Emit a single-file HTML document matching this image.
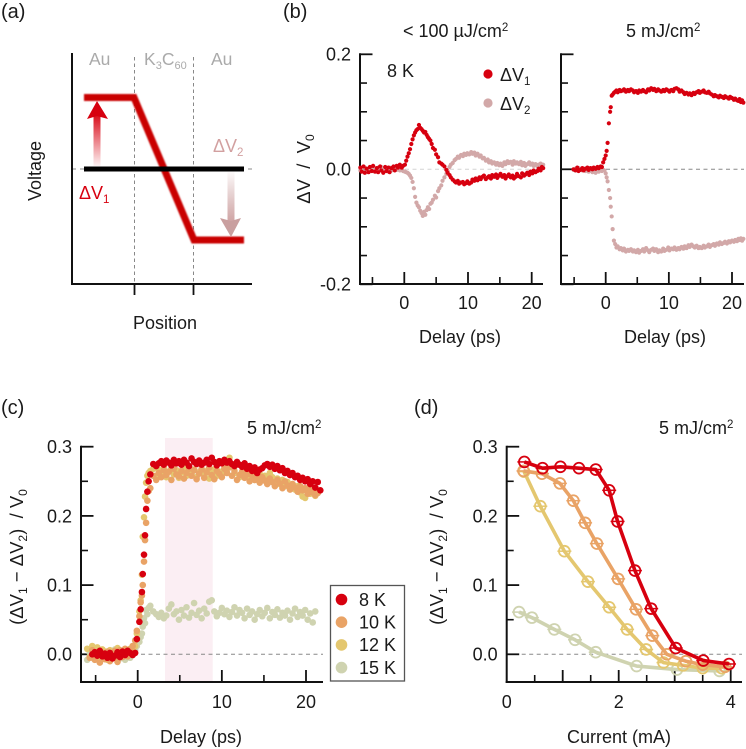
<!DOCTYPE html>
<html>
<head>
<meta charset="utf-8">
<title>Voltage transients</title>
<style>
html,body{margin:0;padding:0;background:#fff;width:746px;height:749px;overflow:hidden}
svg{display:block;font-family:"Liberation Sans",sans-serif;fill:#1a1a1a}
</style>
</head>
<body>
<svg id="fig" xmlns="http://www.w3.org/2000/svg" width="746" height="749" viewBox="0 0 746 749">
<defs>
<filter id="soft" x="-10%" y="-20%" width="120%" height="140%"><feGaussianBlur stdDeviation="0.9"/></filter>
<linearGradient id="redFade" gradientUnits="userSpaceOnUse" x1="0" y1="166" x2="0" y2="112"><stop offset="0" stop-color="#d7000f" stop-opacity="0.05"/><stop offset="1" stop-color="#d7000f"/></linearGradient>
<linearGradient id="pinkFade" gradientUnits="userSpaceOnUse" x1="0" y1="172" x2="0" y2="222"><stop offset="0" stop-color="#c99b9b" stop-opacity="0.05"/><stop offset="1" stop-color="#cfa4a4"/></linearGradient>
</defs>

<g>
<text x="1" y="18" font-size="20">(a)</text>
<text x="89" y="65" font-size="17.5" style="fill:#aaa">Au</text>
<text x="144" y="65" font-size="17.5" style="fill:#aaa">K<tspan font-size="11" dy="4">3</tspan><tspan dy="-4">C</tspan><tspan font-size="11" dy="4">60</tspan></text>
<text x="211" y="65" font-size="17.5" style="fill:#aaa">Au</text>
<line x1="134.5" y1="57" x2="134.5" y2="284" stroke="#888" stroke-width="1" stroke-dasharray="3.5 3"/>
<line x1="193.5" y1="57" x2="193.5" y2="284" stroke="#888" stroke-width="1" stroke-dasharray="3.5 3"/>
<line x1="72" y1="169" x2="255" y2="169" stroke="#888" stroke-width="1" stroke-dasharray="4 4"/>
<polyline points="84,97.5 134,97.5 194,240 244,240" fill="none" stroke="#c90000" stroke-width="7" filter="url(#soft)"/>
<line x1="84" y1="169" x2="244" y2="169" stroke="#000" stroke-width="5"/>
<rect x="93.5" y="115" width="7" height="51" fill="url(#redFade)"/>
<polygon points="97,101 108,119 97,116 87,119" fill="#d7000f"/>
<rect x="227.5" y="172" width="7" height="50" fill="url(#pinkFade)"/>
<polygon points="231,237 220,218 231,221 241,218" fill="#c99f9f"/>
<text x="79" y="199" font-size="18" style="fill:#d7000f">ΔV<tspan font-size="11.5" dy="4">1</tspan></text>
<text x="213" y="152" font-size="18" style="fill:#d2a0a0">ΔV<tspan font-size="11.5" dy="4">2</tspan></text>
<line x1="72" y1="53" x2="72" y2="285" stroke="#111" stroke-width="2"/>
<line x1="71" y1="284" x2="252" y2="284" stroke="#111" stroke-width="2"/>
<line x1="134.5" y1="284" x2="134.5" y2="295" stroke="#111" stroke-width="1.8"/>
<line x1="193.5" y1="284" x2="193.5" y2="295" stroke="#111" stroke-width="1.8"/>
<text transform="translate(41,171) rotate(-90)" text-anchor="middle" font-size="18">Voltage</text>
<text x="165" y="329" text-anchor="middle" font-size="18">Position</text>
</g>

<g>
<text x="283" y="18" font-size="20">(b)</text>
<text x="1" y="414" font-size="20">(c)</text>
<text x="414" y="414" font-size="20">(d)</text>
<text x="403" y="37" font-size="18">&lt; 100 µJ/cm<tspan font-size="11.5" dy="-6">2</tspan></text>
<text x="626" y="37" font-size="18">5 mJ/cm<tspan font-size="11.5" dy="-6">2</tspan></text>
<text x="247" y="434" font-size="18">5 mJ/cm<tspan font-size="11.5" dy="-6">2</tspan></text>
<text x="659" y="434" font-size="18">5 mJ/cm<tspan font-size="11.5" dy="-6">2</tspan></text>
<text x="387" y="77" font-size="18">8 K</text>
<text transform="translate(310,169) rotate(-90)" text-anchor="middle" font-size="18.5">ΔV&#160; /&#160; V<tspan font-size="12" dy="4">0</tspan></text>
<text transform="translate(23,557) rotate(-90)" text-anchor="middle" font-size="18.5">(ΔV<tspan font-size="12" dy="4">1</tspan><tspan dy="-4"> − ΔV</tspan><tspan font-size="12" dy="4">2</tspan><tspan dy="-4">)&#160; /&#160;V</tspan><tspan font-size="12" dy="4">0</tspan></text>
<text transform="translate(443,557) rotate(-90)" text-anchor="middle" font-size="18.5">(ΔV<tspan font-size="12" dy="4">1</tspan><tspan dy="-4"> − ΔV</tspan><tspan font-size="12" dy="4">2</tspan><tspan dy="-4">)&#160; /&#160;V</tspan><tspan font-size="12" dy="4">0</tspan></text>
<text x="460" y="343" text-anchor="middle" font-size="18">Delay (ps)</text>
<text x="665" y="343" text-anchor="middle" font-size="18">Delay (ps)</text>
<text x="201" y="743" text-anchor="middle" font-size="18">Delay (ps)</text>
<text x="619" y="743" text-anchor="middle" font-size="18">Current (mA)</text>
</g>
<rect x="165" y="438" width="47.7" height="244" fill="#fbeef3"/>
</svg>

<script>
// ---------- panel (b) low fluence ----------
const delayLow = [
-6.9,-6.7,-6.4,-6.2,-5.9,-5.6,-5.4,-5.1,-4.9,-4.6,
-4.3,-4.1,-3.8,-3.6,-3.3,-3.0,-2.8,-2.5,-2.3,-2.0,
-1.7,-1.5,-1.2,-1.0,-0.7,-0.4,-0.2,0.1,0.3,0.5,
0.7,0.9,1.1,1.3,1.5,1.7,1.9,2.1,2.3,2.5,
2.7,2.9,3.1,3.3,3.5,3.7,3.9,4.1,4.3,4.5,
4.8,5.0,5.3,5.5,5.8,6.0,6.3,6.6,6.8,7.1,
7.3,7.6,7.9,8.1,8.4,8.6,8.9,9.2,9.4,9.7,
9.9,10.2,10.5,10.7,11.0,11.2,11.5,11.8,12.0,12.3,
12.5,12.8,13.1,13.3,13.6,13.8,14.1,14.4,14.6,14.9,
15.1,15.4,15.7,15.9,16.2,16.4,16.7,17.0,17.2,17.5,
17.7,18.0,18.3,18.5,18.8,19.0,19.3,19.6,19.8,20.1,
20.3,20.6,20.9,21.1,21.4,21.6,21.8];
const dv1Low = [
.003,-.004,.005,-.006,.001,-.005,.004,-.003,.006,-.004,
.002,-.005,.005,-.002,-.006,.004,-.003,.003,-.005,.002,
.005,-.002,.006,.003,.008,.003,.006,.008,.015,.022,
.028,.035,.044,.052,.059,.064,.068,.070,.077,.072,
.070,.067,.064,.065,.060,.056,.053,.050,.044,.037,
.034,.026,.021,.012,.010,.008,.005,-.001,-.006,-.010,
-.014,-.018,-.021,-.023,-.020,-.025,-.023,-.022,-.026,-.024,
-.021,-.025,-.023,-.018,-.020,-.016,-.019,-.014,-.017,-.013,
-.011,-.017,-.014,-.012,-.016,-.010,-.013,-.009,-.015,-.011,
-.008,-.013,-.010,-.016,-.012,-.009,-.014,-.011,-.016,-.013,
-.008,-.012,-.014,-.007,-.011,-.009,-.006,-.010,-.004,-.007,
-.002,-.005,-.003,.001,-.002,.004,.002];
const dv2Low = [
-.002,.002,-.004,.003,-.005,.001,-.002,.004,-.003,.002,
-.004,.003,-.001,.004,.001,-.003,.002,-.004,.003,-.002,
.001,.003,-.001,.002,-.002,-.001,-.003,-.004,-.005,-.006,
-.008,-.011,-.015,-.022,-.033,-.048,-.058,-.063,-.066,-.072,
-.076,-.081,-.074,-.079,-.071,-.066,-.069,-.060,-.058,-.053,
-.046,-.049,-.038,-.033,-.028,-.020,-.014,-.008,-.003,.004,
.008,.011,.016,.018,.022,.020,.025,.023,.027,.025,
.028,.026,.030,.027,.029,.024,.027,.022,.024,.019,
.020,.015,.017,.012,.014,.010,.012,.008,.011,.007,
.010,.006,.012,.009,.014,.011,.013,.008,.014,.010,
.012,.009,.013,.007,.011,.006,.009,.012,.008,.010,
.006,.009,.005,.008,.010,.006,.008];

// ---------- panel (b) high fluence ----------
const delayHigh = [
-5.1,-4.8,-4.5,-4.3,-4.0,-3.7,-3.5,-3.2,-2.9,-2.7,
-2.4,-2.1,-1.9,-1.6,-1.3,-1.1,-0.8,-0.6,-0.4,-0.2,
0.0,0.15,0.3,0.5,0.7,0.8,0.95,1.1,1.3,1.5,
1.7,1.9,2.2,2.4,2.7,2.9,3.2,3.5,3.7,4.0,
4.3,4.5,4.8,5.1,5.3,5.6,5.9,6.1,6.4,6.7,
6.9,7.2,7.5,7.7,8.0,8.3,8.5,8.8,9.1,9.3,
9.6,9.9,10.1,10.4,10.7,10.9,11.2,11.5,11.7,12.0,
12.3,12.5,12.8,13.1,13.3,13.6,13.9,14.1,14.4,14.7,
14.9,15.2,15.5,15.7,16.0,16.3,16.5,16.8,17.1,17.3,
17.6,17.9,18.1,18.4,18.7,18.9,19.2,19.5,19.7,20.0,
20.3,20.5,20.8,21.0,21.2,21.4,21.6,21.8];
const dv1High = [
.000,-.002,.003,-.003,-.001,.002,-.002,.001,.003,-.001,
.002,.000,.003,.001,.004,.002,.005,.004,.012,.018,
.024,.032,.046,.080,.100,.108,.128,.130,.133,.135,
.137,.134,.138,.136,.137,.139,.135,.138,.136,.139,
.137,.134,.136,.133,.137,.135,.138,.136,.134,.139,
.137,.141,.138,.140,.136,.139,.137,.135,.138,.136,
.139,.137,.135,.138,.136,.140,.141,.139,.135,.137,
.134,.131,.133,.130,.132,.129,.133,.131,.134,.136,
.133,.135,.137,.134,.133,.135,.132,.130,.127,.129,
.127,.125,.128,.126,.124,.127,.125,.123,.126,.124,
.121,.123,.120,.119,.122,.117,.120,.116];
const dv2High = [
-.001,.001,-.002,.002,.000,-.002,.001,-.003,.000,-.004,
-.002,-.005,-.003,-.006,-.002,-.004,-.001,-.003,-.001,-.002,
-.007,-.014,-.021,-.036,-.050,-.065,-.082,-.104,-.124,-.130,
-.136,-.134,-.139,-.137,-.141,-.138,-.143,-.140,-.142,-.139,
-.143,-.141,-.144,-.140,-.145,-.142,-.139,-.143,-.137,-.141,
-.144,-.140,-.138,-.142,-.139,-.144,-.141,-.143,-.138,-.142,
-.140,-.136,-.141,-.138,-.139,-.136,-.140,-.137,-.139,-.135,
-.138,-.134,-.137,-.132,-.135,-.131,-.134,-.136,-.133,-.137,
-.135,-.137,-.133,-.136,-.134,-.131,-.135,-.132,-.130,-.133,
-.129,-.131,-.127,-.130,-.128,-.126,-.129,-.125,-.127,-.124,
-.126,-.123,-.125,-.121,-.123,-.120,-.124,-.121];

// ---------- panel (c) ----------
const delayC = [
-6.0,-5.7,-5.4,-5.1,-4.8,-4.5,-4.2,-3.9,-3.6,-3.3,
-3.0,-2.7,-2.4,-2.1,-1.8,-1.5,-1.2,-0.9,-0.6,-0.3,
-0.1,0.2,0.35,0.5,0.6,0.75,0.87,1.0,1.15,1.3,
1.5,1.85,2.2,2.5,2.8,3.1,3.4,3.7,4.0,4.3,
4.6,4.9,5.2,5.5,5.8,6.1,6.4,6.7,7.0,7.3,
7.6,7.9,8.2,8.5,8.8,9.1,9.4,9.7,10.0,10.3,
10.6,10.9,11.2,11.5,11.8,12.1,12.4,12.7,13.0,13.3,
13.6,13.9,14.2,14.5,14.8,15.1,15.4,15.7,16.0,16.3,
16.6,16.9,17.2,17.5,17.8,18.1,18.4,18.7,19.0,19.3,
19.6,19.9,20.2,20.5,20.8,21.1,21.4,21.7];
const diff15K = [
-.008,.002,-.005,.006,-.002,.004,-.006,.003,-.003,.005,
-.004,.007,.000,-.006,.004,-.008,.003,-.005,.002,.006,
.012,.018,.025,.030,.040,.052,.045,.064,.058,.067,
.070,.062,.058,.054,.060,.052,.056,.066,.072,.058,
.062,.050,.064,.056,.068,.053,.060,.074,.057,.063,
.052,.066,.059,.076,.078,.062,.055,.060,.067,.058,
.063,.054,.061,.068,.056,.064,.060,.052,.066,.057,
.062,.050,.058,.064,.055,.060,.067,.052,.061,.057,
.065,.053,.060,.056,.063,.050,.059,.066,.054,.061,
.056,.064,.050,.059,.046,.062,null,null];
const diff12K = [
.008,-.004,.012,.002,.010,-.006,.007,.004,-.008,.006,
.001,-.005,.009,.003,-.003,.007,.002,.008,.005,.012,
.030,.062,.078,.115,.170,.198,.228,.248,.258,.262,
.265,.268,.258,.266,.261,.270,.256,.264,.268,.260,
.266,.255,.263,.269,.258,.265,.261,.267,.256,.263,
.268,.259,.265,.254,.262,.267,.258,.264,.260,.269,
.263,.284,.272,.262,.274,.256,.264,.258,.262,.253,
.260,.252,.257,.261,.254,.258,.251,.262,.256,.248,
.254,.246,.252,.243,.249,.241,.246,.238,.243,.234,
.228,.226,.238,.232,.236,.229,null,null];
const diff10K = [
null,-.005,.006,-.008,.003,-.012,.002,-.007,.004,-.010,
-.002,.005,-.011,.006,-.004,.008,-.003,.007,.012,.020,
.034,.055,.075,.085,.100,.134,.165,.190,.222,.236,
.240,.258,.252,.262,.256,.266,.259,.264,.252,.268,
.260,.257,.265,.254,.262,.268,.258,.266,.253,.261,
.267,.255,.263,.270,.259,.253,.265,.261,.256,.268,
.262,.270,.258,.265,.252,.259,.263,.255,.260,.250,
.258,.252,.255,.248,.256,.251,.246,.254,.249,.243,
.252,.247,.240,.250,.244,.238,.246,.241,.235,.243,
.237,.240,.232,.238,.234,.230,.233,null];
const diff8K = [
null,null,.000,.003,-.002,.005,-.003,.001,-.005,.002,
-.006,-.002,.003,-.004,.004,-.001,.005,.002,-.001,.002,
.022,.047,.065,.090,.116,.144,.172,.210,.235,.250,
.260,.275,.272,.276,.279,.274,.280,.277,.273,.281,
.276,.279,.274,.281,.277,.272,.283,.278,.275,.280,
.274,.277,.281,.275,.284,.278,.273,.279,.276,.281,
.277,.279,.275,.272,.278,.274,.271,.276,.268,.272,
.265,.270,.262,.267,.269,.273,.275,.271,.274,.268,
.272,.266,.269,.262,.265,.259,.262,.256,.258,.252,
.255,.250,.253,.246,.250,.241,.249,.237];

// ---------- panel (d) ----------
const current15K = [0.22,0.45,0.85,1.22,1.59,2.32,3.04,3.8];
const peak15K = [.061,.053,.036,.021,.003,-.017,-.022,-.024];
const current12K = [0.31,0.60,1.03,1.45,1.83,2.15,2.49,2.80,3.15,3.5,3.84];
const peak12K = [.264,.214,.149,.105,.068,.036,.007,-.012,-.016,-.020,-.020];
const current10K = [0.30,0.63,0.95,1.19,1.40,1.61,1.99,2.31,2.60,2.86,3.2,3.5,3.9];
const peak10K = [.265,.261,.247,.222,.190,.160,.109,.065,.027,.000,-.010,-.015,-.018];
const current8K = [0.315,0.64,0.96,1.29,1.59,1.83,1.98,2.29,2.58,3.02,3.51,3.97];
const peak8K = [.278,.269,.271,.269,.267,.237,.192,.121,.066,.009,-.009,-.014];

// ---------- tick labels and legend ----------
const ticksB = ['-0.2','0.0','0.2'];
const ticksBMinor = [-0.15,-0.1,-0.05,0.05,0.1,0.15];
const ticksDelayB = ['0','10','20'];
const ticksDelayBMinor = [-5,5,15];
const ticksDiff = ['0.0','0.1','0.2','0.3'];
const ticksDiffMinor = [0.05,0.15,0.25];
const ticksDelayC = ['0','10','20'];
const ticksDelayCMinor = [-5,5,15];
const ticksCurrent = ['0','2','4'];
const ticksCurrentMajorUnlabeled = [1,3];
const ticksCurrentMinor = [0.5,1.5,2.5,3.5];
const legendLabels = ['8 K','10 K','12 K','15 K'];

const RED='#d7000f', ORANGE='#e9a366', YELLOW='#e4c76f', SAGE='#cfd3b0', PINK='#d2a8a8', AXIS='#111';
const svg=document.getElementById('fig');
const NS='http://www.w3.org/2000/svg';

function mk(tag,attrs,parent,name){
  const el=document.createElementNS(NS,tag);
  for(const k in attrs) el.setAttribute(k,attrs[k]);
  
  
  (parent||svg).appendChild(el);
  return el;
}
function linear(d0,d1,p0,p1){return v=>p0+(v-d0)*(p1-p0)/(d1-d0);}

function axisFrame(cfg){
  const g=mk('g',{},svg,cfg.name+'-axes');
  const bot=cfg.bottom, left=cfg.left;
  mk('line',{x1:cfg.xStart,y1:cfg.zeroY,x2:cfg.right,y2:cfg.zeroY,stroke:cfg.dash,'stroke-width':1,'stroke-dasharray':'4 3.5'},g,cfg.name+'-zero-line');
  mk('line',{x1:left,y1:cfg.top-1,x2:left,y2:bot+1,stroke:AXIS,'stroke-width':2},g,cfg.name+'-y-axis');
  mk('line',{x1:left-1,y1:bot,x2:cfg.right,y2:bot,stroke:AXIS,'stroke-width':2},g,cfg.name+'-x-axis');
  cfg.yMajor.forEach(t=>{
    const y=cfg.y(parseFloat(t));
    mk('line',{x1:left,y1:y,x2:left+12.5,y2:y,stroke:AXIS,'stroke-width':1.8},g,cfg.name+'-y-tick');
    if(cfg.showYLabels!==false){
      const lab=mk('text',{x:left-9,y:y+6.4,'text-anchor':'end','font-size':18},g,cfg.name+'-y-tick-label');
      lab.textContent=t;
    }
  });
  cfg.yMinor.forEach(v=>{
    mk('line',{x1:left,y1:cfg.y(v),x2:left+7,y2:cfg.y(v),stroke:AXIS,'stroke-width':1.6},g,cfg.name+'-y-minor-tick');
  });
  cfg.xMajor.forEach(t=>{
    const x=cfg.x(parseFloat(t));
    if(x>left+1) mk('line',{x1:x,y1:bot,x2:x,y2:bot-12,stroke:AXIS,'stroke-width':1.8},g,cfg.name+'-x-tick');
    const lab=mk('text',{x:x,y:cfg.xLabelY,'text-anchor':'middle','font-size':18},g,cfg.name+'-x-tick-label');
    lab.textContent=t;
  });
  (cfg.xMajorExtra||[]).forEach(v=>{
    mk('line',{x1:cfg.x(v),y1:bot,x2:cfg.x(v),y2:bot-12,stroke:AXIS,'stroke-width':1.8},g,cfg.name+'-x-tick');
  });
  cfg.xMinor.forEach(v=>{
    mk('line',{x1:cfg.x(v),y1:bot,x2:cfg.x(v),y2:bot-7,stroke:AXIS,'stroke-width':1.6},g,cfg.name+'-x-minor-tick');
  });
}
function scatter(xs,ys,xf,yf,r,color,name){
  const g=mk('g',{fill:color},svg,name);
  xs.forEach((x,i)=>{
    if(ys[i]===null||ys[i]===undefined) return;
    mk('circle',{cx:xf(x).toFixed(2),cy:yf(ys[i]).toFixed(2),r:r},g,name+'-point');
  });
}
function lineSeries(xs,ys,xf,yf,color,name){
  const g=mk('g',{},svg,name);
  const pts=xs.map((x,i)=>xf(x).toFixed(2)+','+yf(ys[i]).toFixed(2)).join(' ');
  mk('polyline',{points:pts,fill:'none',stroke:color,'stroke-width':3.6,'stroke-linejoin':'round'},g,name+'-line');
  xs.forEach((x,i)=>{
    const px=xf(x), py=yf(ys[i]);
    mk('circle',{cx:px.toFixed(2),cy:py.toFixed(2),r:5.4,fill:'none',stroke:color,'stroke-width':1.8},g,name+'-marker');
    mk('line',{x1:(px-7).toFixed(2),y1:py.toFixed(2),x2:(px+7).toFixed(2),y2:py.toFixed(2),stroke:color,'stroke-width':1.5},g,name+'-error-bar');
  });
}

// panel b low
const xBL=linear(0,20,404.3,531.7), yB=linear(0,0.2,169.3,54.3);
axisFrame({name:'panel-b-low',left:360,right:543,top:54.3,bottom:284,zeroY:yB(0),xStart:360,dash:'#d4d4d4',x:xBL,y:yB,
  yMajor:ticksB,yMinor:ticksBMinor,xMajor:ticksDelayB,xMinor:ticksDelayBMinor,xLabelY:309});
scatter(delayLow,dv2Low,xBL,yB,2.1,PINK,'dv2-low-series');
scatter(delayLow,dv1Low,xBL,yB,2.1,RED,'dv1-low-series');

// panel b high
const xBH=linear(0,20,605.7,732);
axisFrame({name:'panel-b-high',left:561,right:744,top:54.3,bottom:284,zeroY:yB(0),xStart:561,dash:'#888',x:xBH,y:yB,
  yMajor:ticksB,yMinor:ticksBMinor,xMajor:ticksDelayB,xMinor:ticksDelayBMinor,xLabelY:309,showYLabels:false});
scatter(delayHigh,dv2High,xBH,yB,2.1,PINK,'dv2-high-series');
scatter(delayHigh,dv1High,xBH,yB,2.1,RED,'dv1-high-series');

// panel b legend
mk('circle',{cx:488,cy:74,r:4.6,fill:RED},svg,'legend-dv1-marker');
mk('circle',{cx:488,cy:103,r:4.6,fill:PINK},svg,'legend-dv2-marker');
const l1=mk('text',{x:500,y:81,'font-size':18},svg,'legend-dv1-label');
l1.innerHTML='ΔV<tspan font-size="11.5" dy="4">1</tspan>';
const l2=mk('text',{x:500,y:110,'font-size':18},svg,'legend-dv2-label');
l2.innerHTML='ΔV<tspan font-size="11.5" dy="4">2</tspan>';

// panel c
const xC=linear(0,20,137.7,306), yC=linear(0,0.3,654.3,446.7);
axisFrame({name:'panel-c',left:81,right:323,top:446.7,bottom:682,zeroY:yC(0),xStart:81,dash:'#888',x:xC,y:yC,
  yMajor:ticksDiff,yMinor:ticksDiffMinor,xMajor:ticksDelayC,xMinor:ticksDelayCMinor,xLabelY:708});
scatter(delayC,diff15K,xC,yC,3.3,SAGE,'diff-15k-series');
scatter(delayC,diff12K,xC,yC,3.3,YELLOW,'diff-12k-series');
scatter(delayC,diff10K,xC,yC,3.3,ORANGE,'diff-10k-series');
scatter(delayC,diff8K,xC,yC,3.3,RED,'diff-8k-series');

// panel c legend
const legend=mk('g',{},svg,'temperature-legend');
mk('rect',{x:330.5,y:585.5,width:74,height:95.5,fill:'#fff',stroke:'#555','stroke-width':1.3},legend,'legend-box');
[RED,ORANGE,YELLOW,SAGE].forEach((c,i)=>{
  mk('circle',{cx:341.5,cy:599.5+i*22.7,r:5.8,fill:c},legend,'legend-marker');
  const t=mk('text',{x:359,y:605.8+i*22.7,'font-size':18},legend,'legend-entry');
  t.textContent=legendLabels[i];
});

// panel d
const xD=linear(0,4,506.7,730.7);
axisFrame({name:'panel-d',left:506.7,right:742,top:446.7,bottom:682,zeroY:yC(0),xStart:506.7,dash:'#888',x:xD,y:yC,
  yMajor:ticksDiff,yMinor:ticksDiffMinor,xMajor:ticksCurrent,xMajorExtra:ticksCurrentMajorUnlabeled,xMinor:ticksCurrentMinor,xLabelY:708});
lineSeries(current15K,peak15K,xD,yC,SAGE,'current-15k-series');
lineSeries(current12K,peak12K,xD,yC,YELLOW,'current-12k-series');
lineSeries(current10K,peak10K,xD,yC,ORANGE,'current-10k-series');
lineSeries(current8K,peak8K,xD,yC,RED,'current-8k-series');
</script>
</body>
</html>
